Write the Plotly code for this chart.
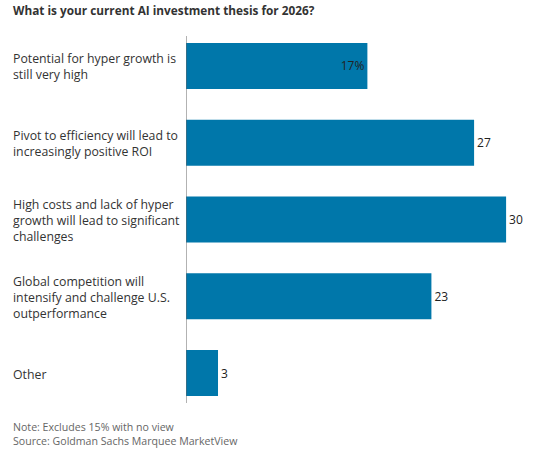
import plotly.graph_objects as go

categories = [
    "Potential for hyper growth is<br>still very high",
    "Pivot to efficiency will lead to<br>increasingly positive ROI",
    "High costs and lack of hyper<br>growth will lead to significant<br>challenges",
    "Global competition will<br>intensify and challenge U.S.<br>outperformance",
    "Other",
]
values = [17, 27, 30, 23, 3]
value_labels = ["17%", "27", "30", "23", "3"]
title_text = "What is your current AI investment thesis for 2026?"
note_text = "Note: Excludes 15% with no view"
source_text = "Source: Goldman Sachs Marquee MarketView"

W, H = 556, 454
ML, MT = 186, 36
plot_right, plot_bottom = 545, 403
MR = W - plot_right
MB = H - plot_bottom
plot_w = plot_right - ML
plot_h = plot_bottom - MT
FONT = "Open Sans, sans-serif"

Y_RANGE = [4.39, -0.39]
px_per_cat = plot_h / (Y_RANGE[0] - Y_RANGE[1])


def px_x(x):
    return (x - ML) / plot_w


def px_y(y):
    return (plot_bottom - y) / plot_h


ypos = list(range(len(categories)))
positions = ["inside" if i == 0 else "outside" for i in range(len(values))]

fig = go.Figure(
    go.Bar(
        x=values,
        y=ypos,
        orientation="h",
        marker=dict(color="#0077AA", line=dict(width=0)),
        width=0.6,
        text=value_labels,
        textposition=positions,
        insidetextanchor="end",
        textfont=dict(family=FONT, size=12, color="#222222"),
        cliponaxis=False,
        hoverinfo="skip",
    )
)

annotations = []
for yv, lab in zip(ypos, categories):
    annotations.append(dict(
        x=px_x(11), xref="paper", y=yv + 1 / px_per_cat, yref="y",
        text=lab, showarrow=False, xanchor="left", yanchor="middle",
        align="left", font=dict(family=FONT, size=12.3, color="#333333"),
    ))
annotations.append(dict(
    x=px_x(11), xref="paper", y=px_y(10), yref="paper", text="<b>" + title_text + "</b>",
    showarrow=False, xanchor="left", yanchor="middle",
    font=dict(family=FONT, size=11.8, color="#333333"),
))
annotations.append(dict(
    x=px_x(11), xref="paper", y=px_y(427), yref="paper",
    text=note_text, showarrow=False, xanchor="left", yanchor="middle",
    font=dict(family=FONT, size=10.6, color="#666666"),
))
annotations.append(dict(
    x=px_x(11), xref="paper", y=px_y(441), yref="paper",
    text=source_text, showarrow=False, xanchor="left", yanchor="middle",
    font=dict(family=FONT, size=10.6, color="#666666"),
))

fig.update_layout(
    width=W, height=H,
    margin=dict(l=ML, r=MR, t=MT, b=MB, pad=0),
    paper_bgcolor="white", plot_bgcolor="white",
    showlegend=False,
    xaxis=dict(range=[0, plot_w / 10.67], visible=False, fixedrange=True),
    yaxis=dict(range=Y_RANGE, showticklabels=False, showgrid=False,
               zeroline=False, showline=False, ticks="", fixedrange=True),
    shapes=[dict(type="line", xref="x", yref="paper", x0=0, x1=0, y0=0, y1=1,
                 line=dict(color="#666666", width=1))],
    annotations=annotations,
)

fig.write_html("out.html", config={"displayModeBar": False, "staticPlot": True},
               post_script="document.body.style.margin='0';")
